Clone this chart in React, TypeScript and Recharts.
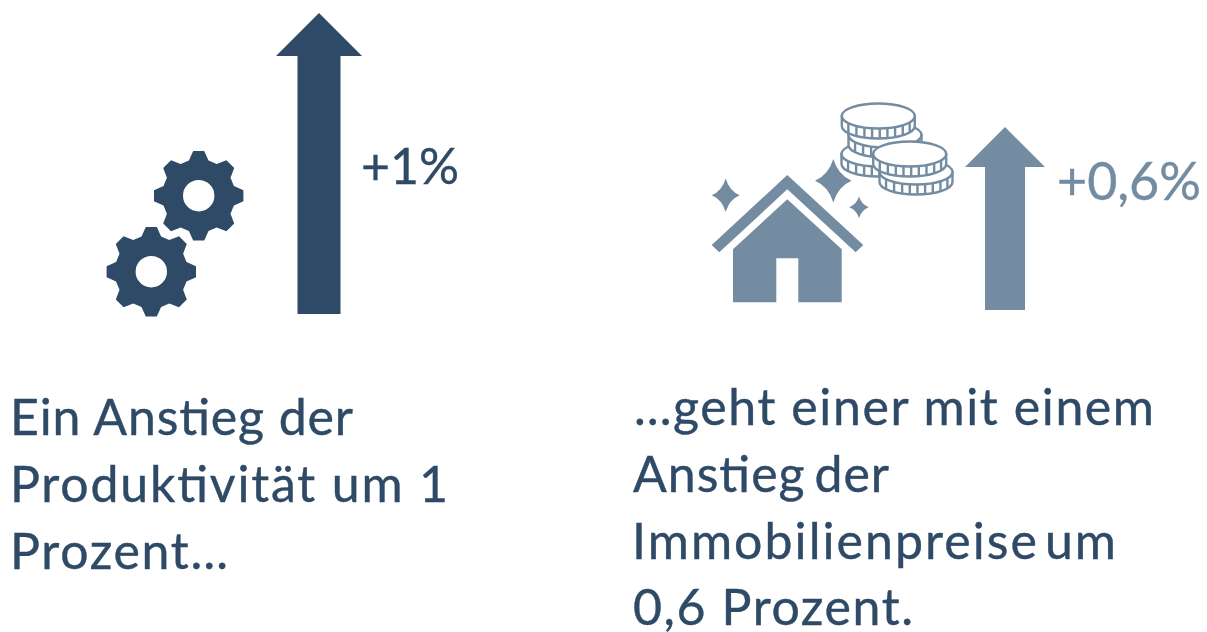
import { BarChart, Bar, XAxis, YAxis, LabelList } from "recharts";

const WIDTH = 1207;
const HEIGHT = 632;
const FONT = "Lato, sans-serif";
const DARK = "#2E4A66";
const LIGHT = "#748CA1";

const productivityCategories = ["Produktivität"];
const productivityValues = [1];
const productivityLabels = ["+1%"];

const priceCategories = ["Immobilienpreise"];
const priceValues = [0.6];
const priceLabels = ["+0,6%"];

// [text, x, baseline, width in the picture, word spacing]
type Line = [string, number, number, number, number];
const leftLines: Line[] = [
  ["Ein Anstieg der", 10, 435, 343, 0],
  ["Produktivität um 1", 10, 502, 438, 0],
  ["Prozent…", 10, 569, 218, 0],
];
const rightLines: Line[] = [
  ["…geht einer mit einem", 634, 425, 520, 0],
  ["Anstieg der", 633, 492, 256, -5],
  ["Immobilienpreise um", 632, 559, 484, -9],
  ["0,6 Prozent.", 633, 625, 280, 0],
];

const productivityData = productivityCategories.map((name, i) => ({
  name,
  value: productivityValues[i],
  label: productivityLabels[i],
}));
const priceData = priceCategories.map((name, i) => ({
  name,
  value: priceValues[i],
  label: priceLabels[i],
}));

const arrowShape = (headHeight: number, color: string) => (props: any) => {
  const { x, y, width, height } = props;
  const inset = width * 0.25;
  const d = [
    `M${x + width / 2},${y}`,
    `L${x + width},${y + headHeight}`,
    `L${x + width - inset},${y + headHeight}`,
    `L${x + width - inset},${y + height}`,
    `L${x + inset},${y + height}`,
    `L${x + inset},${y + headHeight}`,
    `L${x},${y + headHeight}`,
    "Z",
  ].join(" ");
  return <path d={d} fill={color} />;
};

const valueLabel = (dx: number, dy: number, size: number, color: string) => (props: any) => (
  <text
    x={props.x + props.width + dx}
    y={props.y + dy}
    fontFamily={FONT}
    fontSize={size}
    fill={color}
    stroke={color}
    strokeWidth={0.4}
  >
    {props.value}
  </text>
);

function TextLines({ lines }: { lines: Line[] }) {
  return (
    <>
      {lines.map(([text, x, y, w, ws]) => (
        <text
          key={text}
          x={x}
          y={y}
          textLength={w}
          lengthAdjust="spacing"
          fontFamily={FONT}
          fontSize={50}
          fill={DARK}
          stroke={DARK}
          strokeWidth={0.4}
          style={{ wordSpacing: ws }}
        >
          {text}
        </text>
      ))}
    </>
  );
}

function Gear({ cx, cy }: { cx: number; cy: number }) {
  const pts: string[] = [];
  for (let k = 0; k < 8; k++) {
    const a = k * 45;
    for (const [off, r] of [[-15.5, 36.5], [-7, 45], [7, 45], [15.5, 36.5]]) {
      const t = ((a + off) * Math.PI) / 180;
      pts.push(`${(cx + r * Math.sin(t)).toFixed(1)},${(cy - r * Math.cos(t)).toFixed(1)}`);
    }
  }
  const hole = 15.7;
  const d = `M${pts.join(" L")} Z M${cx - hole},${cy} a${hole},${hole} 0 1,0 ${hole * 2},0 a${hole},${hole} 0 1,0 ${-hole * 2},0 Z`;
  return <path d={d} fill={DARK} fillRule="evenodd" />;
}

function Sparkle({ cx, cy, rx, ry }: { cx: number; cy: number; rx: number; ry: number }) {
  const kx = rx * 0.26;
  const ky = ry * 0.26;
  const d = `M${cx},${cy - ry} Q${cx + kx},${cy - ky} ${cx + rx},${cy} Q${cx + kx},${cy + ky} ${cx},${cy + ry} Q${cx - kx},${cy + ky} ${cx - rx},${cy} Q${cx - kx},${cy - ky} ${cx},${cy - ry} Z`;
  return <path d={d} fill={LIGHT} />;
}

function Coin({ cx, cy }: { cx: number; cy: number }) {
  const rx = 36.5;
  const ry = 12.5;
  const h = 10;
  const ticks = [-0.82, -0.6, -0.38, -0.17, 0.04, 0.25, 0.46, 0.67, 0.86];
  return (
    <g stroke={LIGHT} strokeWidth={2.4} fill="#fff">
      <path d={`M${cx - rx},${cy} v${h} a${rx},${ry} 0 0,0 ${rx * 2},0 v${-h} Z`} />
      {ticks.map((t) => {
        const x = cx + t * rx;
        const y = cy + ry * Math.sqrt(1 - t * t);
        return <line key={t} x1={x} y1={y} x2={x} y2={y + h} />;
      })}
      <ellipse cx={cx} cy={cy} rx={rx} ry={ry} />
    </g>
  );
}

function House() {
  return (
    <g fill={LIGHT}>
      <path d="M787.3,175 L711.7,245 L719.3,252.3 L787.3,189.3 L855.7,252.3 L863.3,245 Z" />
      <path d="M787.3,199.3 L733,249.3 V302.3 H776.3 V258.3 H798.3 V302.3 H841.7 V249.3 Z" />
    </g>
  );
}

export default function App() {
  return (
    <div style={{ position: "absolute", left: 0, top: 0, width: WIDTH, height: HEIGHT, background: "#fff" }}>
      <div style={{ position: "absolute", left: 0, top: 0 }}>
        <BarChart
          width={WIDTH}
          height={HEIGHT}
          data={productivityData}
          margin={{ top: 13, bottom: 318, left: 276, right: WIDTH - 362 }}
          barCategoryGap={0}
        >
          <XAxis dataKey="name" hide />
          <YAxis hide domain={[0, 1]} />
          <Bar dataKey="value" isAnimationActive={false} shape={arrowShape(43, DARK)}>
            <LabelList dataKey="label" content={valueLabel(-1, 171, 50, DARK)} />
          </Bar>
          <Gear cx={198.7} cy={195.7} />
          <Gear cx={151.3} cy={271.7} />
          <TextLines lines={leftLines} />
        </BarChart>
      </div>
      <div style={{ position: "absolute", left: 0, top: 0 }}>
        <BarChart
          width={WIDTH}
          height={HEIGHT}
          data={priceData}
          margin={{ top: 5, bottom: 322, left: 965, right: WIDTH - 1045 }}
          barCategoryGap={0}
        >
          <XAxis dataKey="name" hide />
          <YAxis hide domain={[0, 1]} />
          <Bar dataKey="value" isAnimationActive={false} shape={arrowShape(40, LIGHT)}>
            <LabelList dataKey="label" content={valueLabel(12, 73, 52, LIGHT)} />
          </Bar>
          <House />
          <Sparkle cx={725.7} cy={195.3} rx={14} ry={16.7} />
          <Sparkle cx={833.3} cy={180.7} rx={18.3} ry={21.7} />
          <Sparkle cx={859} cy={207.3} rx={9.7} ry={10.7} />
          <Coin cx={878} cy={154} />
          <Coin cx={885} cy={135} />
          <Coin cx={878.3} cy={116} />
          <Coin cx={916} cy={172} />
          <Coin cx={909.7} cy={154} />
          <TextLines lines={rightLines} />
        </BarChart>
      </div>
    </div>
  );
}
